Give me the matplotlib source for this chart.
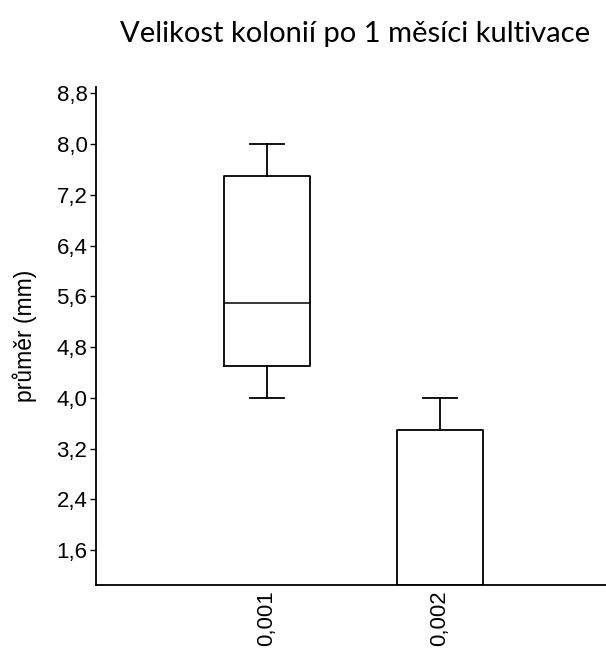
import matplotlib.pyplot as plt

# Colony size after one month of cultivation, per concentration group
groups = ["0,001", "0,002"]
whisker_low = [4.0, 1.05]
q1 = [4.5, 1.05]
median = [5.5, 1.05]
q3 = [7.5, 3.5]
whisker_high = [8.0, 4.0]

y_ticks = [1.6, 2.4, 3.2, 4.0, 4.8, 5.6, 6.4, 7.2, 8.0, 8.8]

stats = []
for i, name in enumerate(groups):
    stats.append({
        "label": name,
        "whislo": whisker_low[i],
        "q1": q1[i],
        "med": median[i],
        "q3": q3[i],
        "whishi": whisker_high[i],
        "fliers": [],
    })

fig = plt.figure(figsize=(6.06, 6.5), dpi=100)
ax = fig.add_axes([0.158, 0.1, 0.842, 0.766])

line = dict(color="black", linewidth=1.3)
ax.bxp(stats, positions=[1, 2], widths=0.5, showfliers=False,
       boxprops=line, whiskerprops=line, capprops=line,
       medianprops=dict(color="black", linewidth=1.1),
       capwidths=0.2)

ax.set_xlim(0.01, 2.96)
ax.set_ylim(1.05, 8.9)
ax.set_yticks(y_ticks)
ax.set_yticklabels([f"{v:.1f}".replace(".", ",") for v in y_ticks],
                   fontsize=16, family="Liberation Sans")
ax.set_xticks([1, 2])
ax.set_xticklabels(groups, rotation=90, fontsize=16, family="Liberation Sans")
ax.tick_params(axis="x", length=0, pad=4)
ax.tick_params(axis="y", length=4, width=1, direction="out", pad=2)

for side in ["top", "right"]:
    ax.spines[side].set_visible(False)
for side in ["left", "bottom"]:
    ax.spines[side].set_linewidth(1.3)

ax.set_ylabel("průměr (mm)", fontsize=16.5, family="Liberation Sans", labelpad=14)

fig.text(0.586, 0.948, "Velikost kolonií po 1 měsíci kultivace",
         ha="center", va="center", fontsize=21, family="Lato")

fig.savefig("out.png", dpi=100)
